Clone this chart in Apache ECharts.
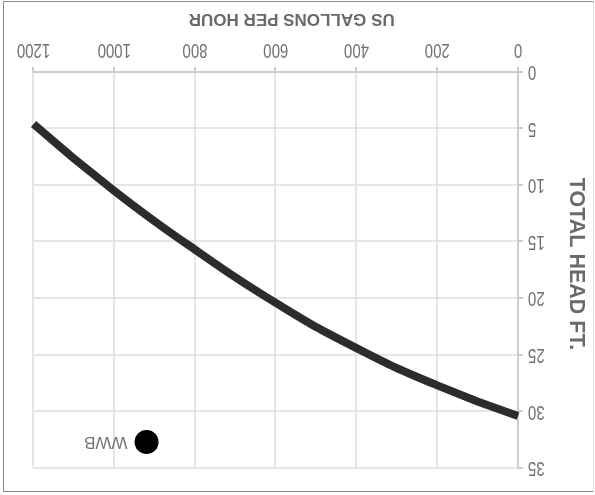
<!DOCTYPE html>
<html>
<head>
<meta charset="utf-8">
<script src="https://cdn.jsdelivr.net/npm/echarts@6/dist/echarts.min.js"></script>
<style>
  body { margin: 0; background: #fff; }
  /* the whole chart is shown upside down in the original */
  #chart { position: absolute; left: 0; top: 0; width: 595px; height: 495px; transform: rotate(180deg); }
  #frame { position: absolute; left: 3px; top: 1px; width: 589px; height: 489px;
    border: 1px solid #8c8c8c; border-right-color: #e2e2e2; pointer-events: none; }
</style>
</head>
<body>
<div id="chart"></div>
<div id="frame"></div>
<script>
// pump curve: flow (US gal/h) against total head (ft)
const flowGph = [0, 200, 400, 600, 800, 1000, 1200];
const headFt = [30.4, 27.7, 24.4, 20.4, 15.7, 10.5, 4.6];
// single marked point
const pointName = 'WWB';
const pointFlow = [920];
const pointHead = [32.7];
// axes
const xName = 'US GALLONS PER HOUR';
const yName = 'TOTAL HEAD FT.';
const xMax = 1200, xStep = 200;
const yMax = 35, yStep = 5;

// tick labels in the original are tall and narrow, stretch them a bit
const LABEL_STRETCH = 1.4;
const proto = CanvasRenderingContext2D.prototype;
const baseFillText = proto.fillText;
proto.fillText = function (text, x, y, maxWidth) {
  if (this.font.indexOf('Arial') < 0) {
    return baseFillText.apply(this, arguments);
  }
  this.save();
  this.translate(x, y);
  this.scale(1, LABEL_STRETCH);
  if (maxWidth === undefined) {
    baseFillText.call(this, text, 0, 0);
  } else {
    baseFillText.call(this, text, 0, 0, maxWidth);
  }
  this.restore();
};

let myChart = echarts.init(document.getElementById('chart'), null, { renderer: 'canvas' });

let tickLabel = {
  fontFamily: 'Arial',
  fontSize: 15,
  color: '#717171',
  formatter: (v) => String(v)
};
let axisLine = { lineStyle: { color: '#cccccc', width: 2 } };
let axisTick = { show: true, length: 5, lineStyle: { color: '#cccccc', width: 2 } };
let splitLine = { lineStyle: { color: '#dedede', width: 1.5 } };

let option = {
  animation: false,
  grid: { left: 71, right: 33.5, top: 27, bottom: 72 },
  xAxis: {
    type: 'value',
    min: 0,
    max: xMax,
    interval: xStep,
    name: xName,
    nameLocation: 'middle',
    nameGap: 45,
    nameTextStyle: {
      fontFamily: 'Liberation Sans',
      fontWeight: 'bold',
      fontSize: 17,
      color: '#6a6a6a',
      padding: [0, 32, 0, 0]
    },
    axisLine: axisLine,
    axisTick: axisTick,
    splitLine: splitLine,
    axisLabel: Object.assign({ margin: 15 }, tickLabel)
  },
  yAxis: {
    type: 'value',
    min: 0,
    max: yMax,
    interval: yStep,
    name: yName,
    nameLocation: 'middle',
    nameRotate: 90,
    nameGap: 47,
    nameTextStyle: {
      fontFamily: 'Liberation Sans',
      fontWeight: 'bold',
      fontSize: 21.5,
      color: '#6a6a6a',
      padding: [0, 12, 0, 0]
    },
    axisLine: Object.assign({ show: true }, axisLine),
    axisTick: axisTick,
    splitLine: splitLine,
    axisLabel: Object.assign({ margin: 10 }, tickLabel)
  },
  series: [
    {
      name: 'curve',
      type: 'line',
      data: flowGph.map((f, i) => [f, headFt[i]]),
      smooth: 0.5,
      showSymbol: false,
      lineStyle: { color: '#2e2b2c', width: 8, cap: 'butt' }
    },
    {
      name: pointName,
      type: 'scatter',
      data: pointFlow.map((f, i) => [f, pointHead[i]]),
      symbolSize: 24,
      itemStyle: { color: '#000000', opacity: 1 },
      label: {
        show: true,
        position: 'right',
        distance: 7,
        formatter: pointName,
        fontFamily: 'Liberation Sans',
        fontSize: 17,
        color: '#777777'
      }
    }
  ]
};
myChart.setOption(option);
</script>
</body>
</html>
